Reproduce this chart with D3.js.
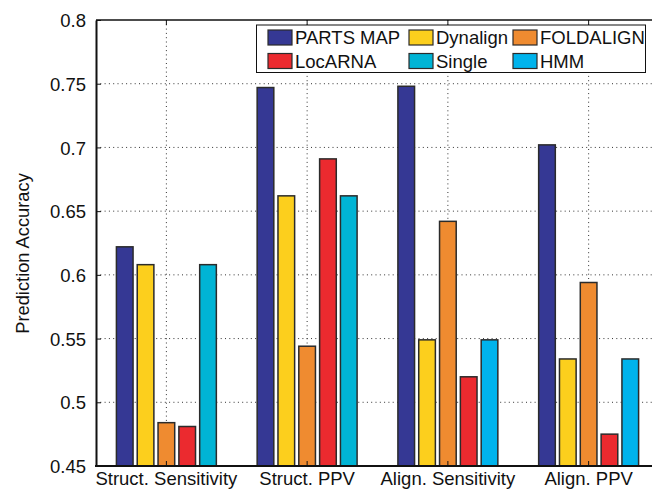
<!DOCTYPE html>
<html>
<head>
<meta charset="utf-8">
<script src="https://cdn.jsdelivr.net/npm/d3@7"></script>
<style>
  html, body { margin: 0; padding: 0; background: #fff; }
  svg { display: block; font-family: "Liberation Sans", Arial, Helvetica, sans-serif; }
</style>
</head>
<body>
<svg id="chart" width="652" height="489"></svg>
<script>
// Metric groups along the x axis
const categories = ["Struct. Sensitivity", "Struct. PPV", "Align. Sensitivity", "Align. PPV"];

// Methods compared (legend order)
const methods = ["PARTS MAP", "Dynalign", "FOLDALIGN", "LocARNA", "Single", "HMM"];

// Prediction accuracy per method, one entry per category (null = not evaluated)
const partsMap  = [0.622, 0.747, 0.748, 0.702];
const dynalign  = [0.608, 0.662, 0.549, 0.534];
const foldalign = [0.484, 0.544, 0.642, 0.594];
const locarna   = [0.481, 0.691, 0.520, 0.475];
const single    = [0.608, 0.662, null, null];
const hmm       = [null, null, 0.549, 0.534];

// Y tick labels
const yTicks = [0.45, 0.5, 0.55, 0.6, 0.65, 0.7, 0.75, 0.8];

const seriesValues = [partsMap, dynalign, foldalign, locarna, single, hmm];
const colors = ["#353894", "#fccf1d", "#ef8b30", "#eb2a2f", "#00b4d5", "#00b3ec"];
// Single and HMM share the fifth slot within each group
const slotOf = [0, 1, 2, 3, 4, 4];

const svg = d3.select("#chart");
const plot = { left: 96, right: 659, top: 20, bottom: 466 };
const FONT = 18.5;

const x = d3.scaleBand().domain(categories).range([plot.left, plot.right]).padding(0);
const groupWidth = x.bandwidth() * (5 / 6.5);
const slot = d3.scaleBand().domain(d3.range(5)).range([-groupWidth / 2, groupWidth / 2]).padding(0.2);
const y = d3.scaleLinear().domain([0.45, 0.8]).range([plot.bottom, plot.top]);

// Dotted grid
const grid = svg.append("g").attr("stroke", "#333").attr("stroke-width", 1)
  .attr("stroke-dasharray", "1,3.3").attr("fill", "none");
grid.selectAll("line.h").data(yTicks.slice(1, -1)).join("line")
  .attr("x1", plot.left).attr("x2", 652)
  .attr("y1", d => y(d)).attr("y2", d => y(d));
grid.selectAll("line.v").data(categories).join("line")
  .attr("x1", d => x(d) + x.bandwidth() / 2).attr("x2", d => x(d) + x.bandwidth() / 2)
  .attr("y1", plot.top).attr("y2", plot.bottom);

// Bars
const bars = [];
seriesValues.forEach((vals, si) => {
  vals.forEach((v, ci) => {
    if (v != null) bars.push({ si, cat: categories[ci], v });
  });
});
svg.append("g").selectAll("rect").data(bars).join("rect")
  .attr("x", d => x(d.cat) + x.bandwidth() / 2 + slot(slotOf[d.si]))
  .attr("width", slot.bandwidth())
  .attr("y", d => y(d.v))
  .attr("height", d => y(0.45) - y(d.v))
  .attr("fill", d => colors[d.si])
  .attr("stroke", "#2b2b2b")
  .attr("stroke-width", 1.5);

// Axes
const yAxis = d3.axisLeft(y).tickValues(yTicks).tickSizeInner(-5).tickSizeOuter(0)
  .tickFormat(d => d3.format("")(+d.toFixed(2)));
const gy = svg.append("g").attr("transform", `translate(${plot.left},0)`).call(yAxis);
gy.select(".domain").attr("stroke", "#111").attr("stroke-width", 2);
gy.selectAll(".tick line").attr("stroke", "#111").attr("stroke-width", 1);
gy.selectAll(".tick text").attr("x", -10).attr("dy", "0.36em")
  .attr("font-size", FONT).attr("font-family", "Liberation Sans, Arial, sans-serif").attr("fill", "#111");

const xAxis = d3.axisBottom(x).tickSizeInner(-5).tickSizeOuter(0);
const gx = svg.append("g").attr("transform", `translate(0,${plot.bottom})`).call(xAxis);
gx.select(".domain").attr("stroke", "#111").attr("stroke-width", 2)
  .attr("d", `M${plot.left - 1},0H652`);
gx.selectAll(".tick line").attr("stroke", "#111");
gx.selectAll(".tick text").attr("y", 19).attr("dy", 0)
  .attr("font-size", FONT).attr("font-family", "Liberation Sans, Arial, sans-serif").attr("fill", "#111");

// Top frame with inner ticks
const xTop = d3.axisTop(x).tickSizeInner(-5).tickSizeOuter(0).tickFormat("");
const gt = svg.append("g").attr("transform", `translate(0,${plot.top})`).call(xTop);
gt.select(".domain").attr("stroke", "#111").attr("stroke-width", 1.5)
  .attr("d", `M${plot.left},0H652`);
gt.selectAll(".tick line").attr("stroke", "#111");

// Y axis title
svg.append("text")
  .attr("transform", "translate(28.5,253.5) rotate(-90)")
  .attr("text-anchor", "middle")
  .attr("font-size", 18.3)
  .attr("fill", "#111")
  .text("Prediction Accuracy");

// Legend
const legend = svg.append("g");
legend.append("rect")
  .attr("x", 256.5).attr("y", 25).attr("width", 389).attr("height", 47.5)
  .attr("fill", "#fff").attr("stroke", "#111").attr("stroke-width", 1);
const colX = [268, 409, 513];
const rowY = [37.5, 61];
methods.forEach((m, i) => {
  const cx = colX[i % 3], cy = rowY[Math.floor(i / 3)];
  legend.append("rect")
    .attr("x", cx).attr("y", cy - 7.5).attr("width", 24).attr("height", 15)
    .attr("fill", colors[i]).attr("stroke", "#2b2b2b").attr("stroke-width", 1.2);
  legend.append("text")
    .attr("x", cx + 27).attr("y", cy).attr("dy", "0.36em")
    .attr("font-size", FONT).attr("fill", "#111")
    .text(m);
});
</script>
</body>
</html>
